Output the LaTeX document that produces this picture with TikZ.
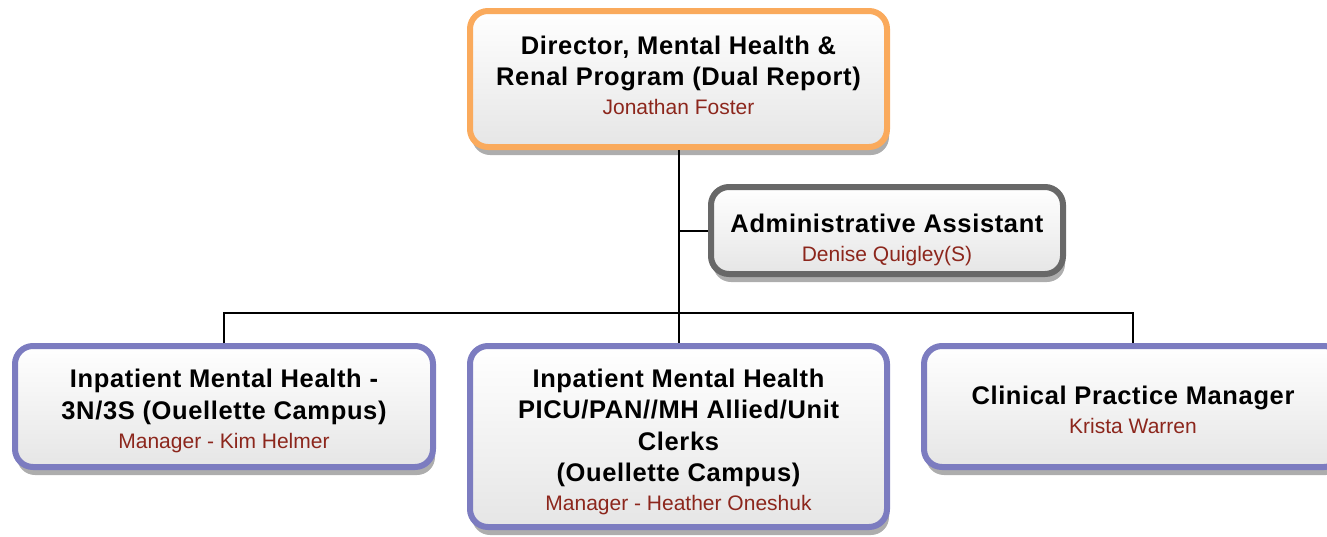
\documentclass[tikz,border=0pt]{standalone}
\usepackage{fontspec}
\setmainfont{Liberation Sans}
\newfontfamily\headfont[LetterSpace=2.5]{Liberation Sans}
\usetikzlibrary{shadows}
\definecolor{namered}{RGB}{140,38,28}
\definecolor{orangeedge}{RGB}{250,170,92}
\definecolor{grayedge}{RGB}{104,104,104}
\definecolor{purpleedge}{RGB}{124,124,192}
\tikzset{
  postbox/.style={draw=#1, line width=3pt, rounded corners=9pt, align=center,
    top color=white, bottom color=black!10, inner sep=2pt,
    font=\headfont\bfseries\fontsize{12.75}{15.6}\selectfont,
    drop shadow={shadow xshift=1pt, shadow yshift=-4pt, fill=black!32, opacity=1}},
  link/.style={line width=1pt}
}
\newcommand{\namefont}{\normalfont\color{namered}\fontsize{10.5}{15}\selectfont}
\newcommand{\topstrut}[1]{\rule{0pt}{#1}}
\begin{document}
\begin{tikzpicture}[x=0.5pt,y=-0.5pt]
  \useasboundingbox (0,0) rectangle (1327,536);
  \node[postbox=orangeedge, minimum width=208.5pt, minimum height=68pt] (dir) at (678.5,79)
    {Director, Mental Health \&\\Renal Program (Dual Report)\\[-1pt]\namefont Jonathan Foster\rule[-3.5pt]{0pt}{0pt}};
  \node[postbox=grayedge, minimum width=176pt, minimum height=43.5pt] (adm) at (887,230.5)
    {\topstrut{18.3pt}Administrative Assistant\\[-1pt]\namefont Denise Quigley(S)};
  \node[postbox=purpleedge, minimum width=209pt, minimum height=60.5pt] (ipa) at (224,406.5)
    {\topstrut{13.8pt}Inpatient Mental Health -\\3N/3S (Ouellette Campus)\\[-1pt]\namefont Manager - Kim Helmer};
  \node[postbox=purpleedge, minimum width=208.5pt, minimum height=90.5pt] (ipb) at (678.5,436.5)
    {\topstrut{14.8pt}Inpatient Mental Health\\PICU/PAN//MH Allied/Unit\\Clerks\\(Ouellette Campus)\\[-1pt]\namefont Manager - Heather Oneshuk};
  \node[postbox=purpleedge, minimum width=209pt, minimum height=60.5pt] (cpm) at (1133,406.5)
    {\topstrut{12.8pt}Clinical Practice Manager\\[-1pt]\namefont Krista Warren};
  \coordinate (bus) at (678.5,313);
  \draw[link] (dir.south) -- (bus);
  \draw[link] (bus) -- (ipb.north);
  \draw[link] (adm.west) -- (adm.west -| dir.south);
  \draw[link] (ipa.north) |- (bus) -| (cpm.north);
\end{tikzpicture}
\end{document}
